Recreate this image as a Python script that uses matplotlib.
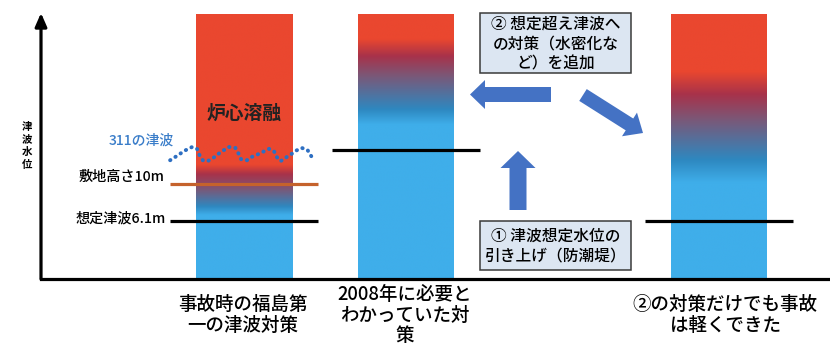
import numpy as np
import matplotlib
matplotlib.use('Agg')
import matplotlib.pyplot as plt
from matplotlib.patches import Rectangle
from matplotlib.colors import to_rgb

plt.rcParams['font.family'] = ['Noto Sans CJK JP', 'DejaVu Sans']

# data (heights in m)
categories = ['事故時の福島第\n一の津波対策',
              '2008年に必要と\nわかっていた対\n策',
              '②の対策だけでも事故\nは軽くできた']
bar_height = [27.9, 27.9, 27.9]
design_level = [6.1, 13.6, 6.1]
site_height = 10.0
# where the bar colour turns from "safe" blue to "meltdown" red
grad_levels = [[6.7, 7.6, 9.4, 11.0, 12.0],
               [16.2, 17.8, 21.3, 23.4, 25.2],
               [10.1, 12.5, 16.7, 19.4, 21.8]]
grad_colors = ['#3FAEEA', '#2E88C0', '#7A5878', '#A8324A', '#EA472F']
# 311 tsunami wave (offset from bar 1 centre, height)
wave_dx = [-0.77, -0.70, -0.62, -0.54, -0.49, -0.46, -0.43, -0.38, -0.32, -0.27,
           -0.22, -0.16, -0.09, -0.06, -0.03, 0.03, 0.08, 0.15, 0.20, 0.26,
           0.31, 0.34, 0.38, 0.43, 0.48, 0.54, 0.60, 0.66, 0.72]
wave_h = [12.5, 12.95, 13.5, 13.9, 13.7, 12.95, 12.5, 12.4, 12.75, 13.15,
          13.5, 13.9, 13.8, 13.25, 12.6, 12.5, 12.85, 13.15, 13.4, 13.7,
          13.5, 12.85, 12.4, 12.75, 13.05, 13.5, 13.8, 13.6, 12.6]

x_pos = [2.115, 3.802, 7.063]
W, H = 830, 346

fig = plt.figure(figsize=(8.3, 3.46), dpi=100)
ax = fig.add_axes([41 / W, (H - 279) / H, (W - 41) / W, (279 - 13) / H])

bars = ax.bar(x_pos, bar_height, width=1.0, color='none', edgecolor='none')
rgb = np.array([to_rgb(c) for c in grad_colors])
for b, x, top, lev in zip(bars, x_pos, bar_height, grad_levels):
    yy = np.linspace(0, top, 600)
    img = np.stack([np.interp(yy, lev, rgb[:, k]) for k in range(3)], axis=1)
    im = ax.imshow(img[:, None, :], extent=[x - 0.5, x + 0.5, 0, top],
                   origin='lower', aspect='auto', interpolation='bilinear', zorder=1)
    im.set_clip_path(b)

for x, lvl in zip(x_pos, design_level):
    ax.hlines(lvl, x - 0.77, x + 0.77, color='black', lw=2.3, zorder=3)
ax.hlines(site_height, x_pos[0] - 0.77, x_pos[0] + 0.77, color='#C5622C', lw=2.3, zorder=3)
ax.plot([x_pos[0] + d for d in wave_dx], wave_h, color='#2E6FC2', lw=2.8,
        ls=(0, (0.1, 1.5)), dash_capstyle='round', zorder=4)

ax.set_xlim(0, (W - 41) / 96)
ax.set_ylim(0, 28)
ax.set_xticks([])
ax.set_yticks([])
for s in ['top', 'right', 'left']:
    ax.spines[s].set_visible(False)
ax.spines['bottom'].set_linewidth(2.3)
ax.annotate('', xy=(0, 1), xytext=(0, 0), xycoords='axes fraction',
            arrowprops=dict(arrowstyle='-|>,head_length=0.8,head_width=0.35',
                            color='black', lw=2.3, shrinkA=0, shrinkB=0))

# overlay in pixel coordinates for labels, boxes and arrows
ov = fig.add_axes([0, 0, 1, 1], zorder=5)
ov.set_xlim(0, W)
ov.set_ylim(H, 0)
ov.axis('off')
ov.patch.set_alpha(0)

ov.text(27, 146, '津\n波\n水\n位', fontsize=7.5, fontweight='bold', ha='center', va='center',
        linespacing=1.35)
ov.text(244, 113, '炉心溶融', fontsize=13.5, fontweight='bold', color='#222222',
        ha='center', va='center')
ov.text(141, 141, '311の津波', fontsize=10, color='#3A7DC9', ha='center', va='center',
        fontweight='medium')
ov.text(164, 177, '敷地高さ10m', fontsize=10.2, ha='right', va='center', fontweight='medium')
ov.text(166, 219, '想定津波6.1m', fontsize=10.2, ha='right', va='center', fontweight='medium')

for cx, lab in zip([243, 405, 725], categories):
    ov.text(cx, 315, lab, fontsize=13.3, ha='center', va='center', linespacing=1.1,
            fontweight='medium')

for y0, y1, txt in [(13, 73, '② 想定超え津波へ\nの対策（水密化な\nど）を追加'),
                    (221, 270, '① 津波想定水位の\n引き上げ（防潮堤）')]:
    ov.add_patch(Rectangle((480, y0), 151, y1 - y0, facecolor='#DCE6F2',
                           edgecolor='#3A3A3A', lw=1.1))
    ov.text(555.5, (y0 + y1) / 2 + 1, txt, fontsize=11.3, ha='center', va='center',
            linespacing=1.2, fontweight='medium')

arr_c = '#4472C4'
for tail, tip, tw, hw, hl in [((551, 94.5), (470, 94.5), 15, 29, 15),
                              ((518, 210), (518, 151), 17, 35, 17),
                              ((583, 95), (643, 133), 14, 28, 16)]:
    ov.annotate('', xy=tip, xytext=tail,
                arrowprops=dict(arrowstyle='simple,head_length=%g,head_width=%g,tail_width=%g'
                                % (hl * 0.72, hw * 0.72, tw * 0.72),
                                mutation_scale=1, fc=arr_c, ec='none', shrinkA=0, shrinkB=0))

fig.savefig('out.png', dpi=100)
